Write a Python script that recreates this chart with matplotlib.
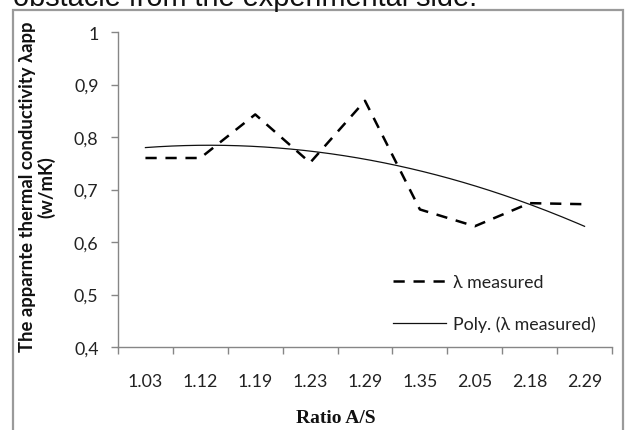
import numpy as np
import matplotlib
matplotlib.use("Agg")
import matplotlib.pyplot as plt
from matplotlib.lines import Line2D

# Data
ratios = ["1.03", "1.12", "1.19", "1.23", "1.29", "1.35", "2.05", "2.18", "2.29"]
lambda_measured = [0.760, 0.760, 0.843, 0.751, 0.869, 0.662, 0.630, 0.674, 0.672]
y_ticks = [0.4, 0.5, 0.6, 0.7, 0.8, 0.9, 1.0]
y_tick_labels = ["0,4", "0,5", "0,6", "0,7", "0,8", "0,9", "1"]

W, H = 627, 431
fig = plt.figure(figsize=(W / 100, H / 100), dpi=100)

def fx(px):
    return px / W

def fy(py):
    return 1 - py / H

# Outer chart frame
frame = plt.Rectangle((fx(12.5), fy(440)), fx(622.5) - fx(12.5), fy(10.5) - fy(440),
                      transform=fig.transFigure, fill=False, edgecolor="#9a9a9a",
                      linewidth=1.6, zorder=0)
fig.add_artist(frame)

# Running text of the page above the chart
fig.text(fx(13), fy(6.5), "obstacle from the experimental side.", family="Liberation Sans",
         fontsize=20.8, va="baseline", ha="left", color="#111111")

ax = fig.add_axes([fx(118), fy(348), fx(612) - fx(118), fy(33) - fy(348)])

x = np.arange(len(ratios))
ax.plot(x, lambda_measured, color="black", linewidth=1.8, linestyle=(0, (4.5, 3.5)),
        label="\u03bb measured")

coef = np.polyfit(x, lambda_measured, 2)
xs = np.linspace(x[0], x[-1], 200)
ax.plot(xs, np.polyval(coef, xs), color="#111111", linewidth=0.9,
        label="Poly. (\u03bb measured)")

ax.set_xlim(-0.5, len(ratios) - 0.5)
ax.set_ylim(0.4, 1.0)

axis_color = "#868686"
for s in ["top", "right"]:
    ax.spines[s].set_visible(False)
for s in ["left", "bottom"]:
    ax.spines[s].set_color(axis_color)
    ax.spines[s].set_linewidth(1.0)

tick_font = dict(family="Lato", size=12.8)
ax.set_yticks(y_ticks)
ax.set_yticklabels(y_tick_labels, fontdict=tick_font, color="#222222")
ax.tick_params(axis="y", direction="out", length=5, width=1, color=axis_color, pad=9)

# Category labels at centres, tick marks at category boundaries
ax.set_xticks(x)
ax.set_xticklabels(ratios, fontdict=tick_font, color="#222222")
ax.tick_params(axis="x", which="major", length=0, pad=19)
ax.set_xticks(np.arange(-0.5, len(ratios)), minor=True)
ax.tick_params(axis="x", which="minor", direction="out", length=5, width=1, color=axis_color)

# Axis titles
fig.text(fx(336), fy(423), "Ratio A/S", family="Liberation Serif", weight="bold",
         fontsize=14, ha="center", va="baseline", color="#111111")
fig.text(fx(37), fy(187), "The apparnte thermal conductivity \u03bbapp\n(w/mK)",
         family=["Lato", "DejaVu Sans"], weight="bold", fontsize=13.3, rotation=90,
         ha="center", va="center", multialignment="center", linespacing=1.1,
         color="#111111")

# Legend
handles = [
    Line2D([], [], color="black", linewidth=1.8, linestyle=(0, (4.5, 3.5))),
    Line2D([], [], color="#111111", linewidth=0.9),
]
leg = ax.legend(handles, ["\u03bb measured", "Poly. (\u03bb measured)"],
                loc="center left", bbox_to_anchor=(fx(393), fy(304)),
                bbox_transform=fig.transFigure, frameon=False,
                prop=dict(family="Lato", size=12.8), handlelength=3.0,
                handletextpad=0.35, labelspacing=1.4, borderpad=0, borderaxespad=0)
for t in leg.get_texts():
    t.set_color("#222222")

fig.savefig("out.png", dpi=100)
